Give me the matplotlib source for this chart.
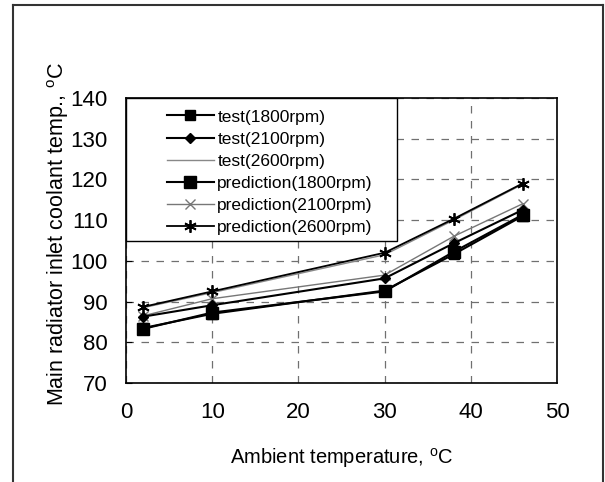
import matplotlib
matplotlib.use("Agg")
import matplotlib.pyplot as plt
from matplotlib.lines import Line2D
from matplotlib.patches import Rectangle

# ---- data ----
x_vals = [2, 10, 30, 38, 46]
test_1800 = [83.5, 87.0, 92.7, 101.6, 111.0]
test_2100 = [86.3, 89.1, 95.7, 104.3, 112.5]
test_2600 = [88.5, 92.2, 101.5, 110.0, 118.8]
pred_1800 = [83.3, 87.3, 92.5, 102.2, 111.3]
pred_2100 = [86.5, 90.7, 96.5, 106.0, 114.0]
pred_2600 = [88.7, 92.5, 102.0, 110.3, 119.0]
labels = ["test(1800rpm)", "test(2100rpm)", "test(2600rpm)",
          "prediction(1800rpm)", "prediction(2100rpm)", "prediction(2600rpm)"]
x_ticks = [0, 10, 20, 30, 40, 50]
y_ticks = [70, 80, 90, 100, 110, 120, 130, 140]

plt.rcParams['font.family'] = ['Liberation Sans', 'DejaVu Sans']
plt.rcParams['mathtext.fontset'] = 'custom'
plt.rcParams['mathtext.rm'] = 'Liberation Sans'

W, H = 605, 482
fig = plt.figure(figsize=(W / 100, H / 100), dpi=100)
ax = fig.add_axes([126 / W, 1 - 383 / H, (557 - 126) / W, (383 - 98) / H])

asterisk = (6, 2, 0)
ax.plot(x_vals, test_1800, color='black', lw=1.5, marker='s', ms=7, label=labels[0], zorder=5)
ax.plot(x_vals, test_2100, color='black', lw=1.5, marker='D', ms=5, label=labels[1], zorder=5)
ax.plot(x_vals, test_2600, color='#888888', lw=1.0, label=labels[2], zorder=4)
ax.plot(x_vals, pred_1800, color='black', lw=1.5, marker='s', ms=8, label=labels[3], zorder=5)
ax.plot(x_vals, pred_2100, color='#777777', lw=1.0, marker='x', ms=7, mew=1.0, label=labels[4], zorder=4)
ax.plot(x_vals, pred_2600, color='black', lw=1.3, marker=asterisk, ms=9, mew=1.3, label=labels[5], zorder=5)

ax.set_xlim(0, 50)
ax.set_ylim(70, 140)
ax.set_xticks(x_ticks)
ax.set_yticks(y_ticks)
ax.tick_params(axis='x', length=0, pad=14, labelsize=16)
ax.tick_params(axis='y', direction='in', length=4, pad=13, labelsize=16)
ax.grid(True, color='#707070', lw=0.9, ls=(0, (6, 6)))
for s in ax.spines.values():
    s.set_linewidth(1.2)

ax.set_xlabel(r"Ambient temperature, $^{\mathregular{o}}$C", fontsize=14.5, labelpad=16)
fig.text(58 / W, 1 - 234 / H, r"Main radiator inlet coolant temp., $^{\mathregular{o}}$C",
         rotation=90, ha='center', va='center', fontsize=15.5)

# legend frame (white box with black edge), then the legend entries inside it
lw_ax = (397 - 126) / (557 - 126)
lb_ax = 1 - (241 - 98) / (383 - 98)
ax.add_patch(Rectangle((0, lb_ax), lw_ax, 1 - lb_ax, transform=ax.transAxes,
                       facecolor='white', edgecolor='black', lw=1.0, zorder=6, clip_on=False))
leg = ax.legend(loc='upper left', bbox_to_anchor=((167 - 126) / 431, 0.96), frameon=False,
                fontsize=12.5, borderaxespad=0, borderpad=0,
                handlelength=2.7, handletextpad=0.2, labelspacing=0.4)
leg.set_zorder(7)

# outer frame of the figure
for xs, ys in [([13, 13], [5, H]), ([13, 603], [5, 5]), ([603, 603], [5, H])]:
    fig.add_artist(Line2D([v / W for v in xs], [1 - v / H for v in ys],
                          transform=fig.transFigure, color='#333333', lw=1.5))

fig.savefig("out.png", dpi=100)
